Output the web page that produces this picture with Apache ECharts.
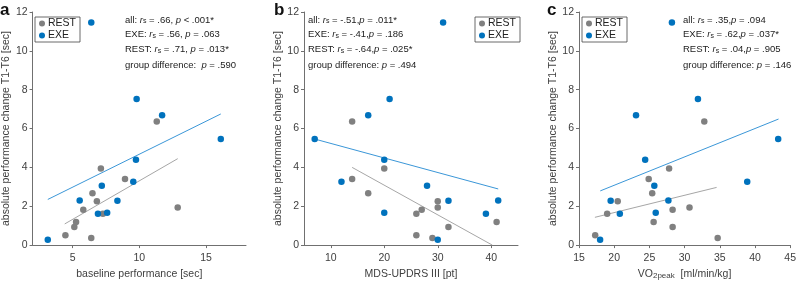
<!DOCTYPE html>
<html><head><meta charset="utf-8">
<script src="https://cdn.jsdelivr.net/npm/echarts@6/dist/echarts.min.js"></script>
<style>html,body{margin:0;padding:0;background:#fff}#c{width:799px;height:285px}</style>
</head><body><div id="c"></div>
<script>
// ---- data ----
const yTicks = [0, 2, 4, 6, 8, 10, 12];
const xTicksA = [5, 10, 15];
const xTicksB = [10, 20, 30, 40];
const xTicksC = [15, 20, 25, 30, 35, 40, 45];

const restA = [[11.31,6.36],[7.12,3.94],[8.93,3.40],[6.49,2.67],[6.82,2.26],[5.80,1.82],[7.27,1.61],[12.88,1.94],[5.26,1.19],[5.13,0.93],[4.46,0.51],[6.40,0.36]];
const exeA = [[6.40,11.46],[9.80,7.52],[11.71,6.68],[16.11,5.46],[9.75,4.40],[9.55,3.26],[7.19,3.06],[5.53,2.29],[8.36,2.28],[6.90,1.61],[7.59,1.66],[3.14,0.27]];
const restB = [[14,6.36],[20,3.94],[14,3.40],[17,2.67],[30,2.26],[30,1.94],[27,1.82],[26,1.61],[41,1.19],[32,0.93],[26,0.51],[29,0.36]];
const exeB = [[31,11.46],[21,7.52],[17,6.68],[7,5.46],[20,4.40],[12,3.26],[28,3.06],[32,2.28],[41.3,2.29],[20,1.66],[39,1.61],[30,0.27]];
const restC = [[32.8,6.36],[27.8,3.94],[24.9,3.40],[25.4,2.67],[20.5,2.26],[30.7,1.94],[28.3,1.82],[19.0,1.61],[25.6,1.19],[28.3,0.93],[17.3,0.51],[34.7,0.36]];
const exeC = [[28.2,11.46],[31.9,7.52],[23.1,6.68],[43.3,5.46],[24.4,4.40],[38.9,3.26],[25.7,3.06],[19.5,2.28],[27.7,2.29],[25.9,1.66],[20.8,1.61],[18.0,0.27]];

// fitted regression lines (endpoints)
const fitRestA = [[4.41,1.09],[12.88,4.45]];
const fitExeA = [[3.14,2.35],[16.11,6.75]];
const fitRestB = [[14,4.0],[40.2,0]];
const fitExeB = [[7,5.46],[41.3,2.89]];
const fitRestC = [[17.26,1.43],[34.55,2.97]];
const fitExeC = [[18.02,2.79],[43.35,6.49]];

const xNames = ['baseline performance [sec]', 'MDS-UPDRS III [pt]', 'VO{sub|2peak}  [ml/min/kg]'];
const yName = 'absolute performance change T1-T6 [sec]';
const panelLetters = ['a', 'b', 'c'];
const statsA = ['all: {i|r}{s|s} = .66, {i|p} < .001*', 'EXE: {i|r}{s|s} = .56, {i|p} = .063', 'REST: {i|r}{s|s} = .71, {i|p} = .013*', 'group difference:  {i|p} = .590'];
const statsB = ['all: {i|r}{s|s} = -.51,{i|p} = .011*', 'EXE: {i|r}{s|s} = -.41,{i|p} = .186', 'REST: {i|r}{s|s} = -.64,{i|p} = .025*', 'group difference: {i|p} = .494'];
const statsC = ['all: {i|r}{s|s} = .35,{i|p} = .094', 'EXE: {i|r}{s|s} = .62,{i|p} = .037*', 'REST: {i|r}{s|s} = .04,{i|p} = .905', 'group difference: {i|p} = .146'];

// ---- layout / style ----
const FONT = '"Liberation Sans", Arial, Helvetica, sans-serif';
const BLUE = '#0072BD', GRAY = '#808080';
const BLUE_L = '#3b97d8', GRAY_L = '#a6a6a6';
const AX = '#707070', TXT = '#404040';
const panels = [
  {left: 31, width: 215, xmin: 2, xmax: 18, ticks: xTicksA, rest: restA, exe: exeA, fr: fitRestA, fe: fitExeA, stats: statsA, sx: 125, lx: 35, letX: 0, yGap: 20},
  {left: 304, width: 214, xmin: 5, xmax: 45, ticks: xTicksB, rest: restB, exe: exeB, fr: fitRestB, fe: fitExeB, stats: statsB, sx: 308, lx: 475, letX: 274, yGap: 20},
  {left: 579, width: 213, xmin: 15, xmax: 45, ticks: xTicksC, rest: restC, exe: exeC, fr: fitRestC, fe: fitExeC, stats: statsC, sx: 683, lx: 582, letX: 547, yGap: 20}
];
const TOP = 12, H = 235;
const statY = [20, 34.7, 49.3, 65];

const grid = [], xAxis = [], yAxis = [], series = [], legend = [], graphic = [];
panels.forEach((p, k) => {
  grid.push({left: p.left, top: TOP, width: p.width, height: H, containLabel: false});
  xAxis.push({
    type: 'value', gridIndex: k, min: p.xmin, max: p.xmax,
    name: xNames[k], nameLocation: 'middle', nameGap: 23,
    nameTextStyle: {fontFamily: FONT, fontSize: 10.5, color: TXT, rich: {sub: {fontFamily: FONT, fontSize: 8, color: TXT, verticalAlign: 'bottom', lineHeight: 5}}},
    axisLine: {show: true, lineStyle: {color: AX, width: 1}},
    axisTick: {show: true, length: 3, lineStyle: {color: AX}, customValues: p.ticks},
    axisLabel: {fontFamily: FONT, fontSize: 10.5, color: TXT, margin: 8, customValues: p.ticks},
    splitLine: {show: false}
  });
  yAxis.push({
    type: 'value', gridIndex: k, min: 0, max: 12, interval: 2,
    name: yName, nameLocation: 'middle', nameGap: p.yGap, nameRotate: 90,
    nameTextStyle: {fontFamily: FONT, fontSize: 10.5, color: TXT},
    axisLine: {show: true, lineStyle: {color: AX, width: 1}},
    axisTick: {show: true, length: 3, lineStyle: {color: AX}},
    axisLabel: {fontFamily: FONT, fontSize: 10.5, color: TXT, margin: 5, customValues: yTicks},
    splitLine: {show: false}
  });
  series.push({type: 'line', name: 'fitR' + k, xAxisIndex: k, yAxisIndex: k, data: p.fr, showSymbol: false, symbol: 'none', lineStyle: {color: GRAY_L, width: 1}, silent: true, z: 1});
  series.push({type: 'line', name: 'fitE' + k, xAxisIndex: k, yAxisIndex: k, data: p.fe, showSymbol: false, symbol: 'none', lineStyle: {color: BLUE_L, width: 1}, silent: true, z: 1});
  series.push({type: 'scatter', name: 'REST', xAxisIndex: k, yAxisIndex: k, data: p.rest, symbol: 'circle', symbolSize: 6.5, itemStyle: {color: GRAY, opacity: 1}, z: 3});
  series.push({type: 'scatter', name: 'EXE', xAxisIndex: k, yAxisIndex: k, data: p.exe, symbol: 'circle', symbolSize: 6.5, itemStyle: {color: BLUE, opacity: 1}, z: 4});
  legend.push({
    data: ['REST', 'EXE'], orient: 'vertical', left: p.lx, top: 17,
    icon: 'circle', itemWidth: 6, itemHeight: 6, itemGap: 1,
    padding: [1, 4, 1, 4], borderColor: '#444', borderWidth: 0.8, borderRadius: 0,
    textStyle: {fontFamily: FONT, fontSize: 10.5, color: '#222', padding: [0, 0, 0, -2]},
    selectedMode: false
  });
  graphic.push({type: 'text', left: p.letX, top: 2, style: {text: panelLetters[k], font: 'bold 17px ' + FONT, fill: '#111'}});
  p.stats.forEach((s, j) => {
    graphic.push({type: 'text', x: p.sx, y: statY[j], style: {
      text: s, fontFamily: FONT, fontSize: 9.5, fill: '#222', verticalAlign: 'middle', align: 'left',
      rich: {i: {fontFamily: FONT, fontSize: 9.5, fontStyle: 'italic', fill: '#222'}, s: {fontFamily: FONT, fontSize: 7, fill: '#222', verticalAlign: 'bottom', lineHeight: 4}}
    }});
  });
});

const chart = echarts.init(document.getElementById('c'), null, {renderer: 'canvas'});
chart.setOption({animation: false, backgroundColor: '#fff', grid, xAxis, yAxis, series, legend, graphic});
</script></body></html>
